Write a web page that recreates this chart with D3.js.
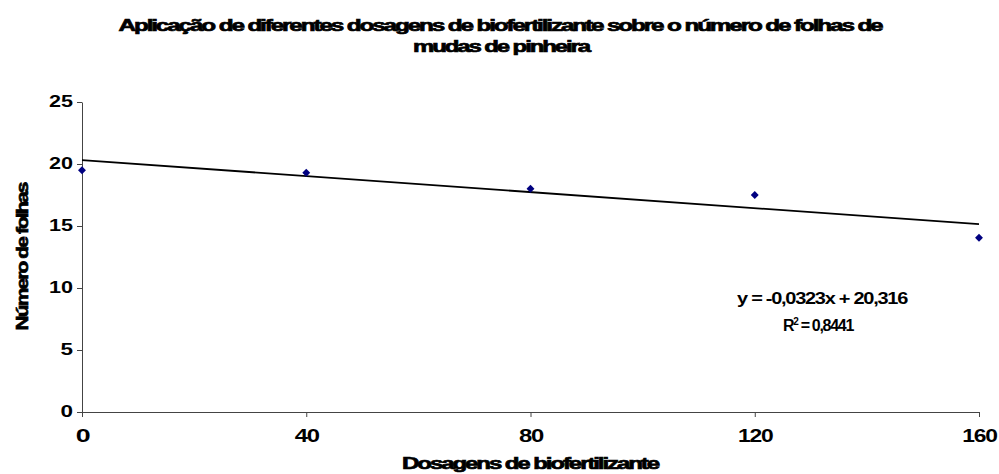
<!DOCTYPE html>
<html><head><meta charset="utf-8">
<script src="https://cdn.jsdelivr.net/npm/d3@7"></script>
<style>body{margin:0;background:#fff}text{font-family:"Liberation Sans",Arial,sans-serif;font-weight:bold}</style>
</head><body><svg id="c" width="999" height="474"></svg>
<script>
const doses = [0, 40, 80, 120, 160];
const folhas = [19.5, 19.3, 18.0, 17.5, 14.05];
const xTicks = [0, 40, 80, 120, 160];
const yTicks = [0, 5, 10, 15, 20, 25];
const slope = -0.0323, intercept = 20.316;
const eqText = "y = -0,0323x + 20,316";
const r2Text = "0,8441";

const svg = d3.select("#c");
const x = d3.scaleLinear().domain([0,160]).range([82,979]);
const y = d3.scaleLinear().domain([0,25]).range([412,102]);

function heavy(sel){ return sel.attr("stroke","#000").attr("stroke-width",0.7).attr("fill","#000"); }

// title
heavy(svg.append("text").attr("x",500).attr("y",31).attr("text-anchor","middle").attr("font-size",17)
 .attr("letter-spacing","-1.5px")
 .attr("textLength",763).attr("lengthAdjust","spacingAndGlyphs")
 .text("Aplicação de diferentes dosagens de biofertilizante sobre o número de folhas de"));
heavy(svg.append("text").attr("x",501).attr("y",52).attr("text-anchor","middle").attr("font-size",17)
 .attr("letter-spacing","-1.5px")
 .attr("textLength",176).attr("lengthAdjust","spacingAndGlyphs").text("mudas de pinheira"));

// axes
const ax = svg.append("g").attr("transform","translate(0,412)")
 .call(d3.axisBottom(x).tickValues(xTicks).tickSize(5).tickSizeOuter(0));
const ay = svg.append("g").attr("transform","translate(82,0)")
 .call(d3.axisLeft(y).tickValues(yTicks).tickSize(5).tickSizeOuter(0).tickPadding(4));
[ax,ay].forEach(a=>{a.select(".domain").attr("stroke","#444");a.selectAll(".tick line").attr("stroke","#444");});
ax.selectAll(".tick text").attr("y",30).attr("dy",null).attr("font-size",19).attr("fill","#000")
 .attr("font-family","Liberation Sans").attr("font-weight","bold").attr("letter-spacing","-1px")
 .attr("textLength",d=>String(d).length*10.5+3).attr("lengthAdjust","spacingAndGlyphs");
ay.selectAll(".tick text").attr("font-size",16).attr("fill","#000").attr("dy","0.3em")
 .attr("font-family","Liberation Sans").attr("font-weight","bold")
 .attr("textLength",d=>String(d).length*11.5+1).attr("lengthAdjust","spacingAndGlyphs");

// axis titles
heavy(svg.append("text").attr("x",530).attr("y",469).attr("text-anchor","middle").attr("font-size",17)
 .attr("letter-spacing","-1.5px")
 .attr("textLength",256).attr("lengthAdjust","spacingAndGlyphs").text("Dosagens de biofertilizante"));
heavy(svg.append("text").attr("transform","translate(28,257) rotate(-90)").attr("text-anchor","middle").attr("font-size",17)
 .attr("letter-spacing","-1.5px")
 .attr("textLength",147).attr("lengthAdjust","spacingAndGlyphs").text("Número de folhas"));

// trendline
svg.append("line").attr("x1",x(0)).attr("y1",y(intercept)).attr("x2",x(160)).attr("y2",y(intercept+slope*160))
 .attr("stroke","#000").attr("stroke-width",1.8);

// points
svg.selectAll(".pt").data(doses).join("path").attr("class","pt")
 .attr("transform",(d,i)=>`translate(${x(d)},${y(folhas[i])})`)
 .attr("d",d3.symbol(d3.symbolDiamond2,40)()).attr("fill","#000080");

// equation
svg.append("text").attr("x",822).attr("y",304).attr("text-anchor","middle").attr("font-size",16)
 .attr("letter-spacing","-1px")
 .attr("textLength",170).attr("lengthAdjust","spacingAndGlyphs").text(eqText);
const r = svg.append("text").attr("x",818).attr("y",331).attr("text-anchor","middle").attr("font-size",16)
 .attr("letter-spacing","-1.3px");
r.append("tspan").text("R");
r.append("tspan").attr("font-size",10).attr("dy",-6).text("2");
r.append("tspan").attr("dy",6).text(" = " + r2Text);
</script></body></html>
